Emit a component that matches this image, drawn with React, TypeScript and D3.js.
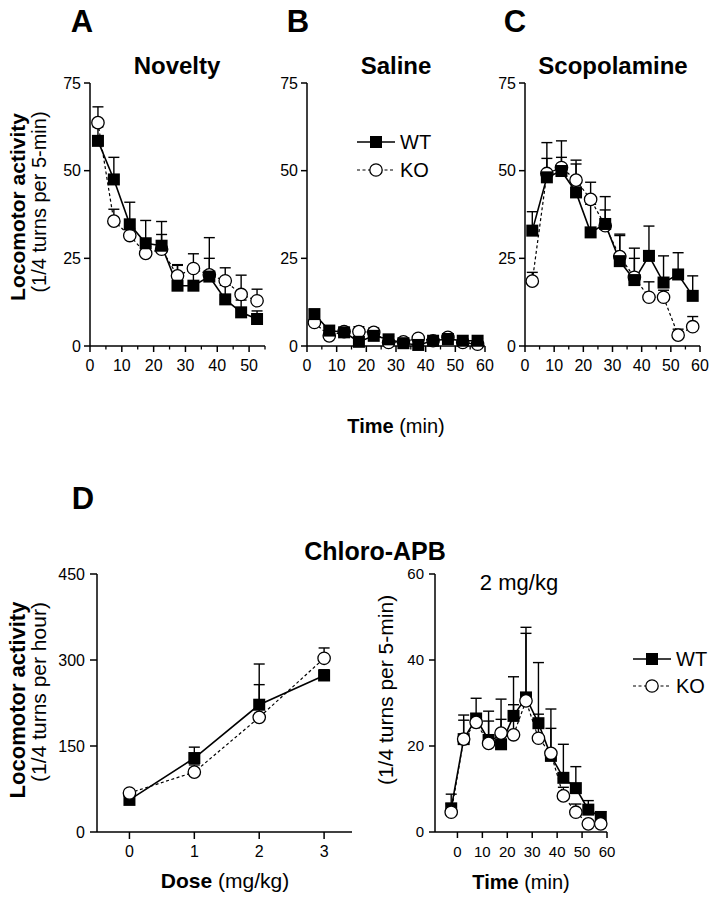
import React from 'react';
import * as d3 from 'd3';

// ---------- DATA ----------
const timeA = [2.5, 7.5, 12.5, 17.5, 22.5, 27.5, 32.5, 37.5, 42.5, 47.5, 52.5];
const noveltyWT = [58.5, 47.5, 34.7, 29.3, 28.6, 17.2, 17.2, 19.8, 13.3, 9.6, 7.7];
const noveltyWTErr = [4, 6.3, 6.3, 6.5, 6.9, 6, 5, 11.1, 4, 3.5, 2.3];
const noveltyKO = [63.7, 35.6, 31.5, 26.4, 27.6, 20, 22.1, 20.3, 18.6, 14.7, 12.9];
const noveltyKOErr = [4.5, 3.4, 2, 2, 4.2, 3, 4.2, 4.7, 3.7, 5.5, 3.3];

const timeBC = [2.5, 7.5, 12.5, 17.5, 22.5, 27.5, 32.5, 37.5, 42.5, 47.5, 52.5, 57.5];
const salineWT = [9.1, 4.4, 3.9, 1.2, 2.9, 1.9, 0.8, 0.3, 1.5, 2.0, 1.5, 1.5];
const salineWTErr = [1.2, 1, 0.8, 4.3, 1, 0.8, 0.8, 1.2, 0.6, 0.8, 0.6, 0.6];
const salineKO = [6.7, 2.9, 4.1, 4.1, 3.9, 1.0, 1.2, 2.2, 1.5, 2.5, 1.0, 0.5];
const salineKOErr = [0.8, 0.8, 0.8, 0.8, 1.2, 0.5, 0.5, 0.6, 0.5, 0.6, 0.5, 0.5];

const scopWT = [32.9, 48.1, 49.9, 43.8, 32.4, 34.8, 24.2, 18.8, 25.7, 18.1, 20.4, 14.3];
const scopWTErr = [5.4, 9.9, 8.6, 9.2, 8, 7.8, 7.7, 9.1, 8.5, 7.6, 6.2, 5.7];
const scopKO = [18.5, 49.2, 50.9, 47.3, 41.8, 34.3, 25.5, 19.6, 13.9, 13.9, 3.1, 5.5];
const scopKOErr = [2.5, 4.3, 2.9, 4.6, 4.9, 4.5, 6, 5.4, 4.4, 2, 1.7, 2.9];

const doses = [0, 1, 2, 3];
const doseWT = [56, 129, 222, 273];
const doseWTErr = [6, 19, 71, 10];
const doseKO = [68, 104.5, 200, 303];
const doseKOErr = [5, 12.5, 57, 18];

const timeD = [-2.5, 2.5, 7.5, 12.5, 17.5, 22.5, 27.5, 32.5, 37.5, 42.5, 47.5, 52.5, 57.5];
const capbWT = [5.5, 21.6, 26.4, 21.4, 20.4, 27, 31.3, 25.3, 17.7, 12.6, 10.2, 5.2, 3.5];
const capbWTErr = [3.3, 5.6, 4.7, 6.7, 5.8, 9.1, 16.3, 14.1, 6.4, 7.8, 5, 2.1, 1.2];
const capbKO = [4.6, 21.6, 25.5, 20.6, 23, 22.6, 30.5, 21.8, 18.3, 8.4, 4.6, 1.9, 1.9];
const capbKOErr = [2, 4.4, 2, 5.2, 7.9, 7, 15.7, 5.6, 10.3, 2, 1.9, 0.5, 0.5];

const yTicks75 = [0, 25, 50, 75];
const xTicks55 = [0, 10, 20, 30, 40, 50];
const xMinor55 = [5, 15, 25, 35, 45, 55];
const xTicks60 = [0, 10, 20, 30, 40, 50, 60];
const xMinor60 = [5, 15, 25, 35, 45, 55];
const yTicksDose = [0, 150, 300, 450];
const yTicksD = [0, 20, 40, 60];

const FONT = "'Liberation Sans', Arial, Helvetica, sans-serif";

type Series = { x: number[]; y: number[]; err: number[] };

function Panel(props: {
  x: d3.ScaleLinear<number, number>;
  y: d3.ScaleLinear<number, number>;
  xTicks: number[];
  xMinor?: number[];
  yTicks: number[];
  wt: Series;
  ko: Series;
  tickFont: number;
  tickLen: number;
  labelGap: number;
  koOnTop?: boolean;
}) {
  const { x, y, xTicks, xMinor = [], yTicks, wt, ko, tickFont, tickLen, labelGap, koOnTop } = props;
  const [x0, x1] = x.range();
  const [y0, y1] = y.range();
  const line = (s: Series) =>
    d3.line<number>().x((_, i) => x(s.x[i])).y((d) => y(d))(s.y) || '';
  const errBars = (s: Series, key: string) =>
    s.y.map((v, i) => {
      const cx = x(s.x[i]);
      const top = y(v + s.err[i]);
      return (
        <g key={key + i}>
          <line x1={cx} x2={cx} y1={y(v)} y2={top} stroke="#000" strokeWidth={1.4} />
          <line x1={cx - 5.5} x2={cx + 5.5} y1={top} y2={top} stroke="#000" strokeWidth={1.4} />
        </g>
      );
    });
  const squares = wt.y.map((v, i) => (
    <rect key={'s' + i} x={x(wt.x[i]) - 6} y={y(v) - 6} width={12} height={12} fill="#000" />
  ));
  const circles = ko.y.map((v, i) => (
    <circle key={'c' + i} cx={x(ko.x[i])} cy={y(v)} r={6.2} fill="#fff" stroke="#000" strokeWidth={1.3} />
  ));
  return (
    <g>
      <line x1={x0} x2={x0} y1={y0} y2={y1} stroke="#000" strokeWidth={1.5} />
      <line x1={x0} x2={x1} y1={y0} y2={y0} stroke="#000" strokeWidth={1.5} />
      {yTicks.map((t) => (
        <g key={'yt' + t}>
          <line x1={x0 - tickLen} x2={x0} y1={y(t)} y2={y(t)} stroke="#000" strokeWidth={1.5} />
          <text x={x0 - labelGap} y={y(t)} dy="0.36em" textAnchor="end" fontSize={tickFont} fontFamily={FONT}>
            {t}
          </text>
        </g>
      ))}
      {xTicks.map((t) => (
        <g key={'xt' + t}>
          <line x1={x(t)} x2={x(t)} y1={y0} y2={y0 + tickLen} stroke="#000" strokeWidth={1.5} />
          <text x={x(t)} y={y0 + 25} textAnchor="middle" fontSize={tickFont} fontFamily={FONT}>
            {t}
          </text>
        </g>
      ))}
      {xMinor.map((t) => (
        <line key={'xm' + t} x1={x(t)} x2={x(t)} y1={y0} y2={y0 + 3.5} stroke="#000" strokeWidth={1.3} />
      ))}
      {errBars(ko, 'ek')}
      {errBars(wt, 'ew')}
      <path d={line(ko)} fill="none" stroke="#000" strokeWidth={1.2} strokeDasharray="3,2.5" />
      <path d={line(wt)} fill="none" stroke="#000" strokeWidth={1.6} />
      {koOnTop ? (
        <>
          {squares}
          {circles}
        </>
      ) : (
        <>
          {circles}
          {squares}
        </>
      )}
    </g>
  );
}

function Legend(props: { x: number; y: number; gap: number; size: number; lineLen: number }) {
  const { x, y, gap, size, lineLen } = props;
  const mid = x + lineLen / 2;
  return (
    <g fontFamily={FONT} fontSize={size}>
      <line x1={x} x2={x + lineLen} y1={y} y2={y} stroke="#000" strokeWidth={1.6} />
      <rect x={mid - 6} y={y - 6} width={12} height={12} fill="#000" />
      <text x={x + lineLen + 5} y={y} dy="0.36em">WT</text>
      <line x1={x} x2={x + lineLen} y1={y + gap} y2={y + gap} stroke="#000" strokeWidth={1.2} strokeDasharray="3,2.5" />
      <circle cx={mid} cy={y + gap} r={6.2} fill="#fff" stroke="#000" strokeWidth={1.3} />
      <text x={x + lineLen + 5} y={y + gap} dy="0.36em">KO</text>
    </g>
  );
}

function AxisTitle(props: { x: number; y: number; bold: string; normal: string; size: number; rotate?: boolean }) {
  const { x, y, bold, normal, size, rotate } = props;
  return (
    <text
      transform={`translate(${x},${y})${rotate ? ' rotate(-90)' : ''}`}
      textAnchor="middle"
      fontFamily={FONT}
      fontSize={size}
    >
      {bold && <tspan fontWeight="bold">{bold}</tspan>}
      {normal && <tspan>{normal}</tspan>}
    </text>
  );
}

export default function App() {
  const yTop = d3.scaleLinear().domain([0, 75]).range([346, 83]);
  const xA = d3.scaleLinear().domain([0, 55]).range([90, 265]);
  const xB = d3.scaleLinear().domain([0, 60]).range([307, 485]);
  const xC = d3.scaleLinear().domain([0, 60]).range([525, 700]);
  const yDose = d3.scaleLinear().domain([0, 450]).range([832, 574]);
  const xDose = d3.scaleLinear().domain([-0.5, 3.43]).range([97, 352]);
  const yD = d3.scaleLinear().domain([0, 60]).range([832, 574]);
  const xD = d3.scaleLinear().domain([-9, 60]).range([435, 607]);

  return (
    <svg
      width={715}
      height={900}
      style={{ position: 'absolute', left: 0, top: 0, background: '#fff' }}
    >
      <rect x={0} y={0} width={715} height={900} fill="#fff" />
      <g fontFamily={FONT} fontWeight="bold" fontSize={31} textAnchor="middle">
        <text x={82} y={32}>A</text>
        <text x={298} y={32}>B</text>
        <text x={515} y={32}>C</text>
        <text x={83} y={509}>D</text>
      </g>
      <g fontFamily={FONT} fontWeight="bold" fontSize={24} textAnchor="middle">
        <text x={177} y={74}>Novelty</text>
        <text x={396} y={74}>Saline</text>
        <text x={613} y={74}>Scopolamine</text>
        <text x={375} y={560} fontSize={25}>Chloro-APB</text>
      </g>

      <Panel x={xA} y={yTop} xTicks={xTicks55} xMinor={xMinor55} yTicks={yTicks75} tickFont={16} tickLen={6} labelGap={9}
        wt={{ x: timeA, y: noveltyWT, err: noveltyWTErr }} ko={{ x: timeA, y: noveltyKO, err: noveltyKOErr }} />
      <Panel x={xB} y={yTop} xTicks={xTicks60} xMinor={xMinor60} yTicks={yTicks75} tickFont={16} tickLen={6} labelGap={9}
        wt={{ x: timeBC, y: salineWT, err: salineWTErr }} ko={{ x: timeBC, y: salineKO, err: salineKOErr }} />
      <Panel x={xC} y={yTop} xTicks={xTicks60} xMinor={xMinor60} yTicks={yTicks75} tickFont={16} tickLen={6} labelGap={9}
        wt={{ x: timeBC, y: scopWT, err: scopWTErr }} ko={{ x: timeBC, y: scopKO, err: scopKOErr }} />
      <Panel x={xDose} y={yDose} xTicks={doses} yTicks={yTicksDose} tickFont={16} tickLen={7} labelGap={12}
        wt={{ x: doses, y: doseWT, err: doseWTErr }} ko={{ x: doses, y: doseKO, err: doseKOErr }} koOnTop />
      <Panel x={xD} y={yD} xTicks={xTicks60} yTicks={yTicksD} tickFont={15} tickLen={6} labelGap={11}
        wt={{ x: timeD, y: capbWT, err: capbWTErr }} ko={{ x: timeD, y: capbKO, err: capbKOErr }} koOnTop />

      <Legend x={357} y={142} gap={28} size={20} lineLen={38} />
      <Legend x={633} y={659} gap={27} size={20} lineLen={38} />

      <AxisTitle x={25} y={207} bold="Locomotor activity" normal="" size={21} rotate />
      <AxisTitle x={46} y={202} bold="" normal="(1/4 turns per 5-min)" size={20} rotate />
      <AxisTitle x={25} y={700} bold="Locomotor activity" normal="" size={22} rotate />
      <AxisTitle x={46} y={692} bold="" normal="(1/4 turns per hour)" size={21} rotate />
      <AxisTitle x={393} y={690} bold="" normal="(1/4 turns per 5-min)" size={21} rotate />

      <AxisTitle x={396} y={433} bold="Time" normal=" (min)" size={20} />
      <AxisTitle x={225} y={888} bold="Dose" normal=" (mg/kg)" size={21} />
      <AxisTitle x={521} y={889} bold="Time" normal=" (min)" size={20} />

      <text x={519} y={590} textAnchor="middle" fontFamily={FONT} fontSize={22}>2 mg/kg</text>
    </svg>
  );
}
